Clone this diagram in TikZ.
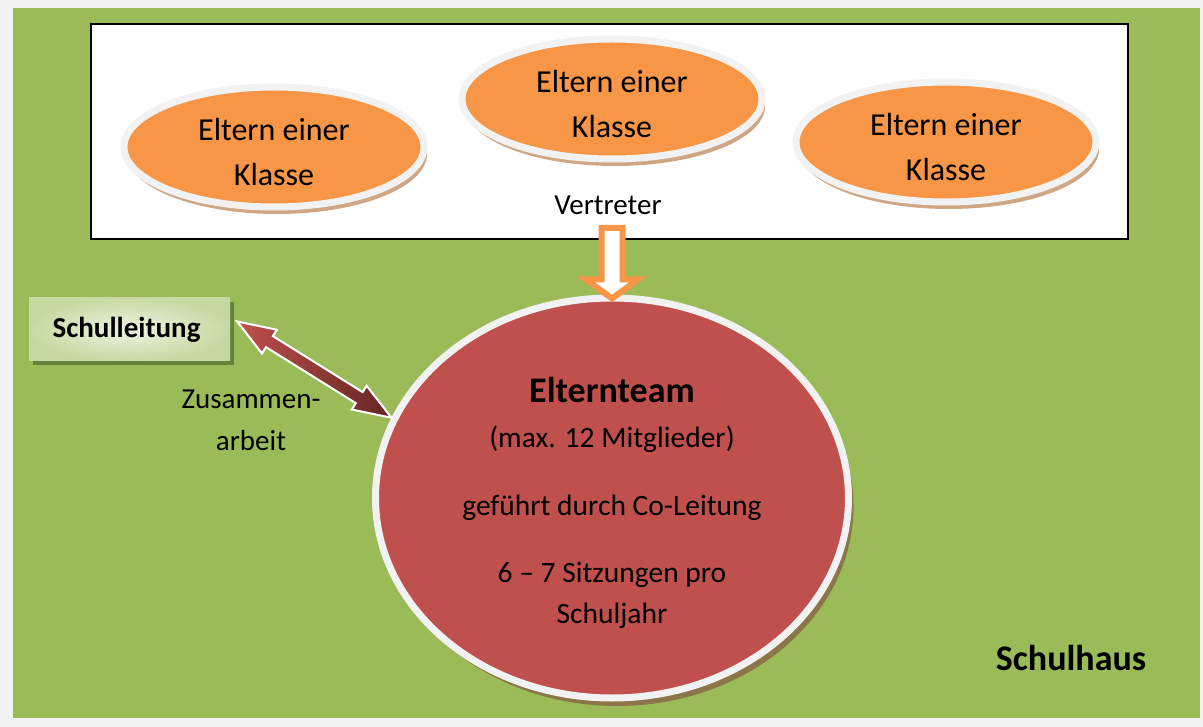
\documentclass[tikz,border=0pt]{standalone}
\usepackage{fontspec}
\setmainfont{Carlito}
\usetikzlibrary{shapes,calc,shadows}

\definecolor{randgrau}{HTML}{F2F2F2}
\definecolor{schulgruen}{HTML}{9BBB59}
\definecolor{elternorange}{HTML}{F79646}
\definecolor{teamrot}{HTML}{C0504D}
\definecolor{pfeildunkel}{HTML}{632523}
\definecolor{schattenbraun}{HTML}{CFA784}
\definecolor{schattenoliv}{HTML}{8C7548}
\definecolor{schattengruen}{HTML}{66823A}
\definecolor{leitunghell}{HTML}{EEF4E3}
\definecolor{leitungdunkel}{HTML}{C6D9A2}

\begin{document}
\begin{tikzpicture}[x=1pt,y=-1pt]
% \tikzstyle{every path}=[thick]

\tikzstyle{elternkreis}=[ellipse,draw=randgrau,line width=7pt,fill=elternorange,
minimum width=300pt,minimum height=120pt,inner sep=0pt,align=center,
text height=78pt,font=\fontsize{32}{45}\selectfont,
drop shadow={shadow xshift=3pt,shadow yshift=-7pt,fill=schattenbraun,opacity=1}]
\tikzstyle{teamkreis}=[ellipse,draw=randgrau,line width=7pt,fill=teamrot,
minimum width=473pt,minimum height=400pt,inner sep=0pt,align=center,
text height=256pt,text depth=6pt,font=\fontsize{29.5}{41}\selectfont,
drop shadow={shadow xshift=5pt,shadow yshift=-8pt,fill=schattenoliv,opacity=1}]
\tikzstyle{leitungsbox}=[rectangle,minimum width=201pt,minimum height=63pt,
inner sep=0pt,inner color=leitunghell,outer color=leitungdunkel,
font=\fontsize{29}{35}\selectfont\bfseries,
drop shadow={shadow xshift=4pt,shadow yshift=-4pt,fill=schattengruen,opacity=1}]
\tikzstyle{beschriftung}=[inner sep=0pt,align=center,font=\fontsize{29}{42}\selectfont]
\tikzstyle{doppelpfeil}=[draw=white,line width=2pt,left color=teamrot,right color=pfeildunkel]
\tikzstyle{vertreterpfeil}=[draw=elternorange,line width=6pt,fill=white,line join=miter]

\newcommand{\klassentext}{Eltern einer\\Klasse}

%% Schulhaus
\fill[randgrau] (0,0) rectangle (1203,727);
\useasboundingbox (0,0) rectangle (1203,727);
\fill[schulgruen] (13,8) rectangle (1200,718);
\node[beschriftung,anchor=base,font=\fontsize{36}{44}\selectfont\bfseries] (schulhaus) at (1071,670) {Schulhaus};

%% Eltern der Klassen
\node[draw,line width=2.5pt,fill=white,minimum width=1037pt,minimum height=215pt,inner sep=0pt] (elternbox) at (609.5,131.5) {};
\node[elternkreis] (klasse1) at (274,147) {\klassentext};
\node[elternkreis] (klasse2) at (612,99) {\klassentext};
\node[elternkreis] (klasse3) at (946,142) {\klassentext};
\node[beschriftung,anchor=base] (vertreter) at (608,215) {Vertreter};

%% Elternteam
\node[teamkreis] (elternteam) at (612,498) {{\fontsize{36}{41}\selectfont\bfseries Elternteam}\\[4pt]
(max. 12 Mitglieder)\\[27pt]
geführt durch Co-Leitung\\[26pt]
6 – 7 Sitzungen pro\\
Schuljahr};

\coordinate (vs) at ([yshift=-4pt]elternteam.north);
\draw[vertreterpfeil] (vs) -- ++(-26,-19) -- ++(15.5,0) -- ++(0,-51.5) -- ++(21,0)
  -- ++(0,51.5) -- ++(15.5,0) -- cycle;

%% Schulleitung
\node[leitungsbox] (schulleitung) at (129.5,329.5) {Schulleitung\hspace*{6pt}};
\node[beschriftung] (zusammenarbeit) at (251,420) {Zusammen-\\arbeit};

\coordinate (zs) at ([xshift=7pt,yshift=8pt]schulleitung.east);
\coordinate (ze) at (elternteam.160);
\coordinate (ka) at ($(zs)!38pt!(ze)$);
\coordinate (kb) at ($(ze)!38pt!(zs)$);
\path[doppelpfeil] (zs) -- ($(ka)!14pt!90:(ze)$) -- ($(ka)!6.5pt!90:(ze)$)
  -- ($(kb)!6.5pt!-90:(zs)$) -- ($(kb)!14pt!-90:(zs)$) -- (ze)
  -- ($(kb)!14pt!90:(zs)$) -- ($(kb)!6.5pt!90:(zs)$)
  -- ($(ka)!6.5pt!-90:(ze)$) -- ($(ka)!14pt!-90:(ze)$) -- cycle;

\end{tikzpicture}
\end{document}
